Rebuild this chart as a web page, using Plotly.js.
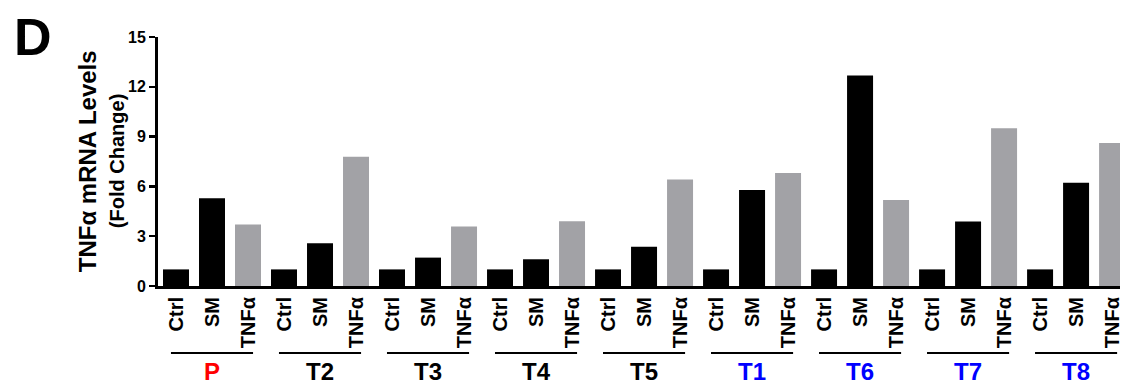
<!DOCTYPE html>
<html>
<head>
<meta charset="utf-8">
<script src="https://cdn.plot.ly/plotly-3.0.1.min.js"></script>
<style>html,body{margin:0;padding:0;background:#fff;}#chart{width:1133px;height:388px;}</style>
</head>
<body>
<div id="chart"></div>
<script>
const groups = ['P', 'T2', 'T3', 'T4', 'T5', 'T1', 'T6', 'T7', 'T8'];
const groupColors = ['#ff0000', '#000000', '#000000', '#000000', '#000000', '#0000ff', '#0000ff', '#0000ff', '#0000ff'];
const conditions = ['Ctrl', 'SM', 'TNFα'];
const conditionColors = ['#000000', '#000000', '#a2a2a6'];
const ctrl = [1, 1, 1, 1, 1, 1, 1, 1, 1];
const sm = [5.28, 2.58, 1.71, 1.61, 2.36, 5.78, 12.68, 3.89, 6.22];
const tnf = [3.71, 7.79, 3.59, 3.9, 6.42, 6.81, 5.18, 9.5, 8.62];
const yTicks = [0, 3, 6, 9, 12, 15];

const series = [ctrl, sm, tnf];
const xs = [], ys = [], cols = [], tickText = [];
groups.forEach((g, gi) => {
  conditions.forEach((c, ci) => {
    xs.push(gi * conditions.length + ci);
    ys.push(series[ci][gi]);
    cols.push(conditionColors[ci]);
    tickText.push(c);
  });
});

const FONT = 'Arial, "Liberation Sans", sans-serif';
const shapes = [];
const annotations = [];
groups.forEach((g, gi) => {
  const center = gi * conditions.length + 1;
  shapes.push({type: 'line', xref: 'x', yref: 'paper', x0: center - 1.14, x1: center + 1.14,
    y0: -0.269, y1: -0.269, line: {color: '#000', width: 2}});
  annotations.push({xref: 'x', yref: 'paper', x: center, y: -0.345, text: g, showarrow: false,
    xanchor: 'center', yanchor: 'middle',
    font: {family: FONT, size: 24, weight: 'bold', color: groupColors[gi]}});
});
annotations.push({xref: 'paper', yref: 'paper', x: -0.073, y: 0.5, textangle: -90, showarrow: false,
  text: 'TNFα mRNA Levels', xanchor: 'center', yanchor: 'middle',
  font: {family: FONT, size: 24, weight: 'bold', color: '#000'}});
annotations.push({xref: 'paper', yref: 'paper', x: -0.043, y: 0.5, textangle: -90, showarrow: false,
  text: '(Fold Change)', xanchor: 'center', yanchor: 'middle',
  font: {family: FONT, size: 20, weight: 'bold', color: '#000'}});
annotations.push({xref: 'paper', yref: 'paper', x: -0.152, y: 1.0, showarrow: false,
  text: 'D', xanchor: 'left', yanchor: 'middle',
  font: {family: FONT, size: 52, weight: 'bold', color: '#000'}});

const data = [{
  type: 'bar', x: xs, y: ys, marker: {color: cols, line: {width: 0}},
  hoverinfo: 'x+y'
}];

const layout = {
  width: 1133, height: 388,
  margin: {l: 158, r: 13, t: 37, b: 102},
  paper_bgcolor: '#fff', plot_bgcolor: '#fff',
  showlegend: false,
  bargap: 0.278,
  font: {family: FONT, color: '#000', weight: 'bold'},
  xaxis: {
    range: [-0.5, 26.22], tickmode: 'array', tickvals: xs, ticktext: tickText,
    tickangle: -90, showgrid: false, zeroline: false, showline: true,
    linecolor: '#000', linewidth: 3, ticks: '',
    tickfont: {family: FONT, size: 20, weight: 'bold', color: '#000'}
  },
  yaxis: {
    range: [0, 15], tickmode: 'array', tickvals: yTicks, ticktext: yTicks.map(String),
    showgrid: false, zeroline: false, showline: true, linecolor: '#000', linewidth: 3,
    ticks: 'outside', ticklen: 6, tickwidth: 2.5, tickcolor: '#000',
    tickfont: {family: FONT, size: 16, weight: 'bold', color: '#000'}
  },
  shapes: shapes,
  annotations: annotations
};

Plotly.newPlot('chart', data, layout, {displayModeBar: false, staticPlot: true});
</script>
</body>
</html>
